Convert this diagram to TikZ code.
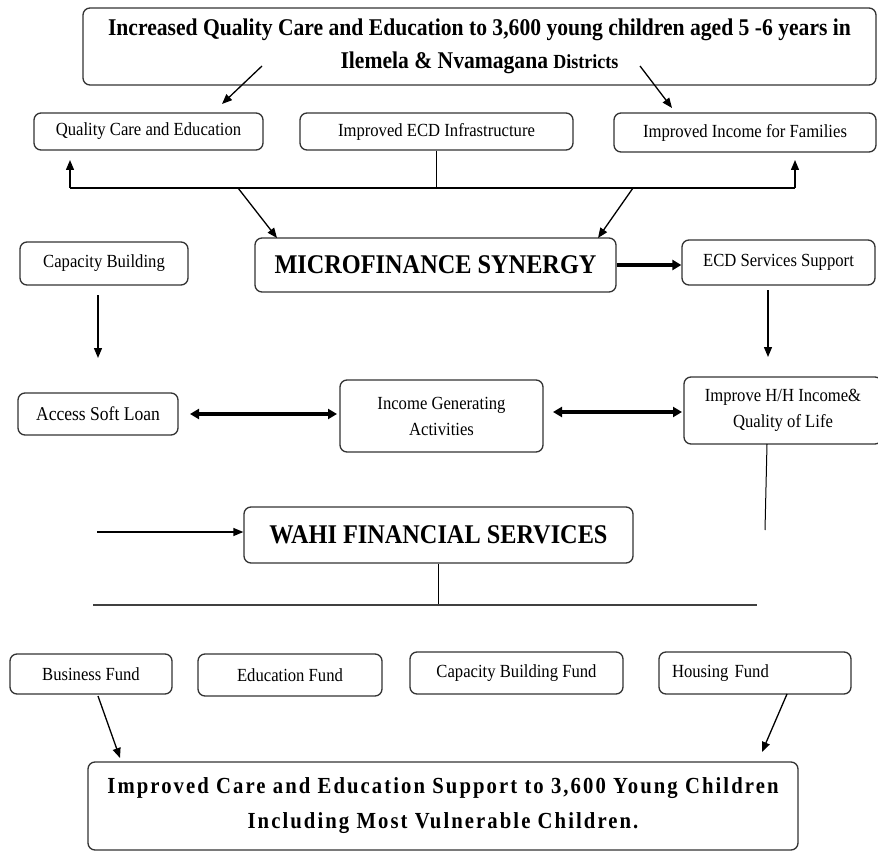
\documentclass[tikz,border=0pt]{standalone}
\usepackage{fontspec}
\setmainfont{Liberation Serif}
\newfontfamily\rg[FakeStretch=0.9]{Liberation Serif}
\newfontfamily\bsp[FakeStretch=0.9,LetterSpace=9]{Liberation Serif}
\usetikzlibrary{arrows.meta}
\begin{document}
\begin{tikzpicture}[x=1pt,y=-1pt,
 box/.style={draw=black!80, line width=1.3pt, rounded corners=7pt, inner sep=0pt, align=center, fill=white, font=\rg\fontsize{18.5}{26}\selectfont},
 big/.style={font=\rg\bfseries\fontsize{27}{30}\selectfont},
 ln/.style={line width=1.3pt, draw=black},
 ar/.style={ln, -{Triangle[length=10pt,width=8pt]}},
 tar/.style={line width=3.2pt, -{Triangle[length=9pt,width=10pt]}},
 dar/.style={line width=3.2pt, {Triangle[length=9pt,width=10pt]}-{Triangle[length=9pt,width=10pt]}},
]
\useasboundingbox (0,0) rectangle (878,853);

% boxes
\node[box, minimum width=793, minimum height=77, font=\rg\bfseries\fontsize{24}{33}\selectfont] (top) at (479.5,46.5)
  {Increased Quality Care and Education to 3,600 young children aged 5 -6 years in\\ Ilemela \& Nvamagana {\fontsize{20}{33}\selectfont Districts}};
\node[box, minimum width=229, minimum height=37] (qce) at (148.5,131.5) {Quality Care and Education};
\node[box, minimum width=273, minimum height=37] (infra) at (436.5,131.5) {Improved ECD Infrastructure};
\node[box, minimum width=262, minimum height=39] (fam) at (745,132.5) {Improved Income for Families};

\node[box, big, minimum width=361, minimum height=54] (mf) at (435.5,265) {MICROFINANCE SYNERGY};
\node[box, minimum width=168, minimum height=43] (cap) at (104,263.5) {Capacity Building};
\node[box, minimum width=193, minimum height=45] (ecds) at (778.5,262.5) {ECD Services Support};

\node[box, minimum width=160, minimum height=42, font=\rg\fontsize{19.5}{26}\selectfont] (asl) at (98,414) {Access Soft Loan};
\node[box, minimum width=203, minimum height=72] (iga) at (441.5,416) {Income Generating\\ Activities};
\node[box, minimum width=198, minimum height=67] (hh) at (783,410.5) {Improve H/H Income\&\\ Quality of Life};

\node[box, big, minimum width=389, minimum height=56] (wahi) at (438.5,535) {WAHI FINANCIAL SERVICES};

\node[box, minimum width=162, minimum height=40] (bf) at (91,674) {Business Fund};
\node[box, minimum width=184, minimum height=42] (ef) at (290,675) {Education Fund};
\node[box, minimum width=213, minimum height=42] (cbf) at (516.5,673) {Capacity Building Fund};
\node[box, minimum width=192, minimum height=42, text width=166, align=left] (hf) at (755,673) {Housing Fund};

\node[box, minimum width=710, minimum height=88, font=\bsp\bfseries\fontsize{23}{35}\selectfont] (res) at (443,806)
  {Improved Care and Education Support to 3,600 Young Children\\ Including Most Vulnerable Children.};

% connectors
\coordinate (t1) at (262,66); \coordinate (t1e) at (222,104);
\coordinate (t2) at (640,66); \coordinate (t2e) at (672,108);
\draw[ar] (t1) -- (t1e);
\draw[ar] (t2) -- (t2e);

\coordinate (bl) at (70,188); \coordinate (br) at (795,188);
\coordinate (blt) at (70,160); \coordinate (brt) at (795,160);
\draw[ln] (bl) -- (br);
\draw[ar] (bl) -- (blt);
\draw[ar] (br) -- (brt);
\draw[ln] (infra.south) -- (infra.south |- bl);
\coordinate (m1) at (238,188); \coordinate (m1e) at (277,238);
\coordinate (m2) at (633,188); \coordinate (m2e) at (598,238);
\draw[ar] (m1) -- (m1e);
\draw[ar] (m2) -- (m2e);

\draw[tar] (mf.east) -- (mf.east -| ecds.west);

\coordinate (c1) at (98,295); \coordinate (c1e) at (98,358);
\draw[ar] (c1) -- (c1e);
\coordinate (e1) at (768,290); \coordinate (e1e) at (768,357);
\draw[ar] (e1) -- (e1e);

\coordinate (d1) at (190,414); \coordinate (d1e) at (337,414);
\draw[dar] (d1) -- (d1e);
\coordinate (d2) at (553,412); \coordinate (d2e) at (682,412);
\draw[dar] (d2) -- (d2e);

\coordinate (h1) at (767,444); \coordinate (h1e) at (765,530);
\draw[ln, line width=1pt] (h1) -- (h1e);

\coordinate (w1) at (97,532);
\draw[ar] (w1) -- (w1 -| wahi.west);
\coordinate (hl) at (93,605); \coordinate (hr) at (757,605);
\draw[ln, line width=1pt] (wahi.south) -- (wahi.south |- hl);
\draw[ln, draw=black!75, line width=2pt] (hl) -- (hr);

\coordinate (b1) at (98,696); \coordinate (b1e) at (120,758);
\draw[ar] (b1) -- (b1e);
\coordinate (b2) at (787,694); \coordinate (b2e) at (762,752);
\draw[ar] (b2) -- (b2e);
\end{tikzpicture}
\end{document}
